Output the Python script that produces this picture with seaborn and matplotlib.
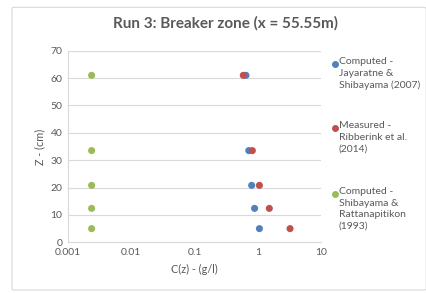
import pandas as pd
import matplotlib.pyplot as plt
import seaborn as sns
from matplotlib.lines import Line2D
from matplotlib.patches import FancyBboxPatch

# data
z_levels = [61.0, 33.5, 20.8, 12.4, 5.0]
c_jayaratne = [0.65, 0.72, 0.80, 0.89, 1.06]
c_ribberink = [0.59, 0.82, 1.06, 1.52, 3.23]
c_shibayama = [0.00237, 0.00237, 0.00237, 0.00237, 0.00237]

series_names = [
    "Computed -\nJayaratne &\nShibayama (2007)",
    "Measured -\nRibberink et al.\n(2014)",
    "Computed -\nShibayama &\nRattanapitikon\n(1993)",
]
series_colors = ["#4F81BD", "#C0504D", "#9BBB59"]

df = pd.concat([
    pd.DataFrame({"C": c_jayaratne, "Z": z_levels, "series": series_names[0]}),
    pd.DataFrame({"C": c_ribberink, "Z": z_levels, "series": series_names[1]}),
    pd.DataFrame({"C": c_shibayama, "Z": z_levels, "series": series_names[2]}),
])

sns.set_theme(style="white")
plt.rcParams["font.family"] = ["Lato", "DejaVu Sans"]
grey = "#595959"

fig = plt.figure(figsize=(4.27, 2.93), dpi=100)
ax = fig.add_axes([0.159, 0.173, 0.593, 0.654])

# outer chart border
fig.patches.append(FancyBboxPatch((12 / 427, 0.01), 0.97, 0.965, boxstyle="round,pad=0,rounding_size=0.005",
                                  transform=fig.transFigure, fill=False, edgecolor="#D9D9D9", linewidth=0.8))

sns.scatterplot(data=df, x="C", y="Z", hue="series", palette=series_colors,
                s=26, linewidth=0, ax=ax, zorder=3, legend=False)

ax.set_xscale("log")
ax.set_xlim(0.001, 10)
ax.set_ylim(0, 70)
ax.set_yticks(range(0, 71, 10))
ax.set_xticks([0.001, 0.01, 0.1, 1, 10])
ax.set_xticklabels(["0.001", "0.01", "0.1", "1", "10"])
ax.minorticks_off()
ax.yaxis.grid(True, color="#D9D9D9", linewidth=0.8)
ax.xaxis.grid(False)
for side in ["top", "right"]:
    ax.spines[side].set_visible(False)
for side in ["left", "bottom"]:
    ax.spines[side].set_color("#D9D9D9")
    ax.spines[side].set_linewidth(0.8)
ax.tick_params(axis="both", labelsize=7.5, colors=grey, length=0, pad=4)
ax.set_xlabel("C(z) - (g/l)", fontsize=7.8, color=grey, labelpad=5)
ax.set_ylabel("Z - (cm)", fontsize=7.8, color=grey, labelpad=4)

fig.text(0.527, 0.92, "Run 3: Breaker zone (x = 55.55m)", ha="center", va="center",
         fontsize=11, fontweight="bold", color=grey)

# legend, Excel style: marker next to the first line of each entry
legend_rows = [64, 128, 194]
for name, color, row in zip(series_names, series_colors, legend_rows):
    y = 1 - row / 293
    fig.add_artist(Line2D([335 / 427], [y], marker="o", markersize=4.0, color=color,
                          linestyle="none", transform=fig.transFigure))
    fig.text(339 / 427, y + 0.023, name, ha="left", va="top", fontsize=7.5,
             color=grey, linespacing=1.35)

fig.savefig("out.png", dpi=100)
